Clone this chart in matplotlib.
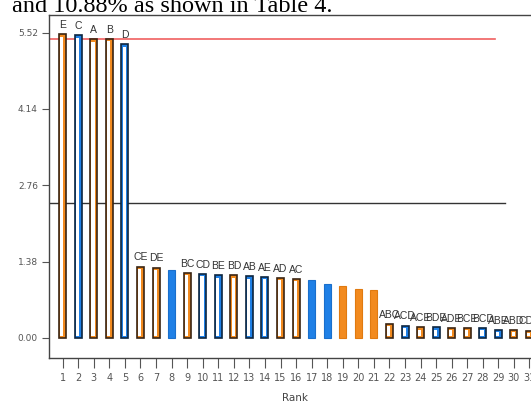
import matplotlib
matplotlib.use('Agg')
import matplotlib.pyplot as plt
import numpy as np

# effect data
ranks = list(range(1, 32))
effects = [5.49, 5.47, 5.40, 5.41, 5.31, 1.29, 1.27, 1.23, 1.17, 1.15,
           1.13, 1.13, 1.11, 1.10, 1.08, 1.07, 1.04, 0.98, 0.93, 0.89,
           0.87, 0.25, 0.22, 0.19, 0.19, 0.18, 0.18, 0.18, 0.145, 0.145, 0.13]
labels = ['E', 'C', 'A', 'B', 'D', 'CE', 'DE', '', 'BC', 'CD',
          'BE', 'BD', 'AB', 'AE', 'AD', 'AC', '', '', '', '',
          '', 'ABC', 'ACD', 'ACE', 'BDE', 'ADE', 'BCE', 'BCD', 'ABE', 'ABD', 'CDE']
# o = orange, b = blue ; filled or hollow
colours = ['o', 'b', 'o', 'o', 'b', 'o', 'o', 'b', 'o', 'b',
           'b', 'o', 'b', 'b', 'o', 'o', 'b', 'b', 'o', 'o',
           'o', 'o', 'b', 'o', 'b', 'o', 'o', 'b', 'b', 'o', 'o']
filled = [False]*7 + [True] + [False]*8 + [True]*5 + [False]*10
yticks = [0.0, 1.38, 2.76, 4.14, 5.52]
red_line = 5.41
black_line = 2.44

fill_col = {'o': '#f28a1e', 'b': '#1f80e6'}
edge_dark = {'o': '#3a2412', 'b': '#0c2540'}
edge_fill = {'o': '#e07a10', 'b': '#1a6fcc'}

fig = plt.figure(figsize=(5.31, 4.04), dpi=100)
fig.text(12/531, 1 - 12.5/404, 'and 10.88% as shown in Table 4.', family='Liberation Serif',
         fontsize=17.5, va='baseline', ha='left', color='black')

ax = fig.add_axes([49/531, 46.5/404, 511.6/531, 342.5/404])
ax.set_xlim(0.12, 33)
ax.set_ylim(-0.356, 5.84)

w = 0.45
for r, v, c, f, lab in zip(ranks, effects, colours, filled, labels):
    if f:
        ax.bar(r, v, width=w, color=fill_col[c], edgecolor=edge_fill[c], linewidth=0.8, zorder=3)
    else:
        ax.bar(r, v, width=w, color=fill_col[c], edgecolor=edge_dark[c], linewidth=1.2, zorder=3)
        ax.bar(r - 0.05, v - 0.07, bottom=0.03, width=0.2, color='white', linewidth=0, zorder=4)
    if lab:
        ax.annotate(lab, (r, v), xytext=(0, 3), textcoords='offset points',
                    ha='center', va='bottom', fontsize=7.5, color='#333333',
                    family='Liberation Sans')

ax.plot([0.12, 28.8], [red_line, red_line], color='#f06060', lw=1.2, zorder=2)
ax.plot([0.12, 29.4], [black_line, black_line], color='#333333', lw=1.0, zorder=2)

ax.set_yticks(yticks)
ax.set_yticklabels(['%.2f' % t for t in yticks])
ax.set_xticks(ranks)
ax.tick_params(axis='y', length=5, width=0.8, pad=3, labelsize=6.5, colors='#555555',
               direction='out')
ax.tick_params(axis='x', length=7, width=0.8, pad=4, labelsize=7, colors='#555555',
               direction='out')
for s in ['left', 'bottom', 'top']:
    ax.spines[s].set_color('#444444')
    ax.spines[s].set_linewidth(1.0)
ax.spines['right'].set_visible(False)

ax.set_xlabel('Rank', fontsize=7.5, color='#444444')
ax.xaxis.set_label_coords((295 - 49)/511.6, -0.105)

fig.savefig('out.png', dpi=100)
